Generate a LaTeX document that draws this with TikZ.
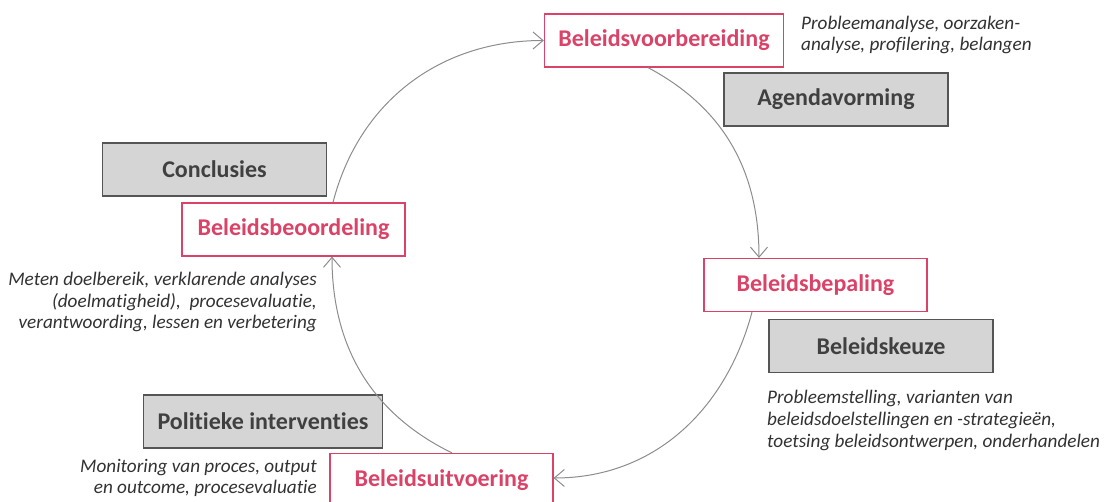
\documentclass[tikz,border=0pt]{standalone}
\usepackage{fontspec}
\setmainfont[Ligatures={NoCommon}]{Carlito}
\usetikzlibrary{arrows.meta}
\definecolor{cred}{RGB}{218,66,103}
\definecolor{gfill}{RGB}{213,213,213}
\definecolor{gdraw}{RGB}{85,85,85}
\definecolor{gtext}{RGB}{64,64,64}
\definecolor{atext}{RGB}{50,50,50}
\definecolor{arc}{RGB}{140,140,140}
\begin{document}
\begin{tikzpicture}[x=1pt,y=1pt,
  phase/.style={draw=cred, line width=1.2pt, fill=white, text=cred,
    font=\bfseries\fontsize{24}{28}\selectfont, minimum width=223pt,
    minimum height=53pt, inner xsep=14pt},
  tag/.style={draw=gdraw, line width=1.3pt, fill=gfill, text=gtext,
    font=\bfseries\fontsize{24}{28}\selectfont, minimum width=224pt,
    minimum height=53pt, inner xsep=14pt},
  note/.style={text=atext, font=\itshape\fontsize{19.2}{21.8}\selectfont, inner sep=0pt},
  cyc/.style={draw=arc, line width=1pt, -{Straight Barb[length=10pt,width=17pt,line width=1pt]}}]
\useasboundingbox (0,0) rectangle (1104,502);
% nodes
\node[phase] (voorb) at (664,461.5) {Beleidsvoorbereiding};
\node[tag] (agenda) at (836,402.5) {Agendavorming};
\node[phase] (bepal) at (815.5,217) {Beleidsbepaling};
\node[tag] (keuze) at (881,156) {Beleidskeuze};
\node[phase] (uitv) at (441.5,22) {Beleidsuitvoering};
\node[tag] (polit) at (263,80.5) {Politieke interventies};
\node[phase] (beoord) at (293.5,272.5) {Beleidsbeoordeling};
\node[tag] (concl) at (214.5,332.5) {Conclusies};
% notes
\node[note, anchor=west, align=left] (n1) at (801,467) {Probleemanalyse, oorzaken-\\analyse, profilering, belangen};
\node[note, anchor=west, align=left] (n2) at (767,81.5) {Probleemstelling, varianten van\\beleidsdoelstellingen en -strategieën,\\toetsing beleidsontwerpen, onderhandelen};
\node[note, anchor=east, align=right] (n3) at (317,200) {Meten doelbereik, verklarende analyses\\(doelmatigheid),\ \ procesevaluatie,\\verantwoording, lessen en verbetering};
\node[note, anchor=east, align=right] (n4) at (317,24) {Monitoring van proces, output\\en outcome, procesevaluatie};
% cycle
\draw[cyc] ([xshift=39.5pt]beoord.north) to[out=75.5,in=180] (voorb.west);
\draw[cyc] ([xshift=-16pt]voorb.south) to[out=-28,in=90] ([xshift=-56.5pt]bepal.north);
\draw[cyc] ([xshift=-63.5pt]bepal.south) to[out=-105,in=0] ([yshift=2pt]uitv.east);
\draw[cyc] ([xshift=10.5pt]uitv.north) to[out=154,in=-90] ([xshift=38.5pt]beoord.south);
\end{tikzpicture}
\end{document}
